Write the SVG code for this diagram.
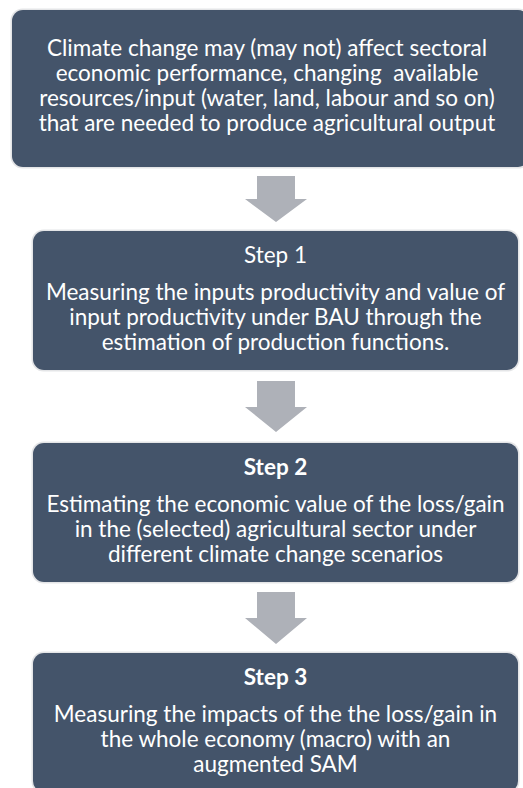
<svg xmlns="http://www.w3.org/2000/svg" width="523" height="788" viewBox="0 0 523 788">
  <style>
    .halo { fill: #E4E5E7; }
    .box { fill: #44546A; }
    .txt { fill: #FFFFFF; font-family: Lato, "Open Sans", "Liberation Sans", sans-serif; font-size: 22.5px; text-anchor: middle; }
    .bold { font-weight: bold; }
    .arrow { fill: #AEB1B8; }
  </style>
  <rect width="523" height="788" fill="#FFFFFF"/>

  <!-- connectors: block arrows between the stages -->
  <g id="connectors">
    <path class="arrow" d="M257 176 H295 V199 H307 L276 222 L245 199 H257 Z"/>
    <path class="arrow" d="M257 381 H295 V407 H307 L276 432 L245 407 H257 Z"/>
    <path class="arrow" d="M257 592 H295 V618 H307 L276 644 L245 618 H257 Z"/>
  </g>

  <!-- context box -->
  <g id="context">
    <rect class="halo" x="10.5" y="8.5" width="520" height="160" rx="12"/>
    <rect class="box" x="12" y="10" width="517" height="157" rx="11"/>
    <text class="txt" x="267" y="56">Climate change may (may not) affect sectoral</text>
    <text class="txt" x="267" y="81" xml:space="preserve">economic performance, changing  available</text>
    <text class="txt" x="267" y="106">resources/input (water, land, labour and so on)</text>
    <text class="txt" x="267" y="131">that are needed to produce agricultural output</text>
  </g>

  <!-- step 1 -->
  <g id="step1">
    <rect class="halo" x="31.5" y="229.5" width="488" height="142" rx="12"/>
    <rect class="box" x="33" y="231" width="485" height="139" rx="11"/>
    <text class="txt" x="275.5" y="263">Step 1</text>
    <text class="txt" x="275.5" y="300">Measuring the inputs productivity and value of</text>
    <text class="txt" x="275.5" y="325">input productivity under BAU through the</text>
    <text class="txt" x="275.5" y="350">estimation of production functions.</text>
  </g>

  <!-- step 2 -->
  <g id="step2">
    <rect class="halo" x="31.5" y="441.5" width="488" height="142" rx="12"/>
    <rect class="box" x="33" y="443" width="485" height="139" rx="11"/>
    <text class="txt bold" x="275.5" y="475">Step 2</text>
    <text class="txt" x="275.5" y="512">Estimating the economic value of the loss/gain</text>
    <text class="txt" x="275.5" y="537">in the (selected) agricultural sector under</text>
    <text class="txt" x="275.5" y="562">different climate change scenarios</text>
  </g>

  <!-- step 3 -->
  <g id="step3">
    <rect class="halo" x="31.5" y="651.5" width="488" height="142" rx="12"/>
    <rect class="box" x="33" y="653" width="485" height="139" rx="11"/>
    <text class="txt bold" x="275.5" y="685">Step 3</text>
    <text class="txt" x="275.5" y="722">Measuring the impacts of the the loss/gain in</text>
    <text class="txt" x="275.5" y="747">the whole economy (macro) with an</text>
    <text class="txt" x="275.5" y="772">augmented SAM</text>
  </g>
</svg>
